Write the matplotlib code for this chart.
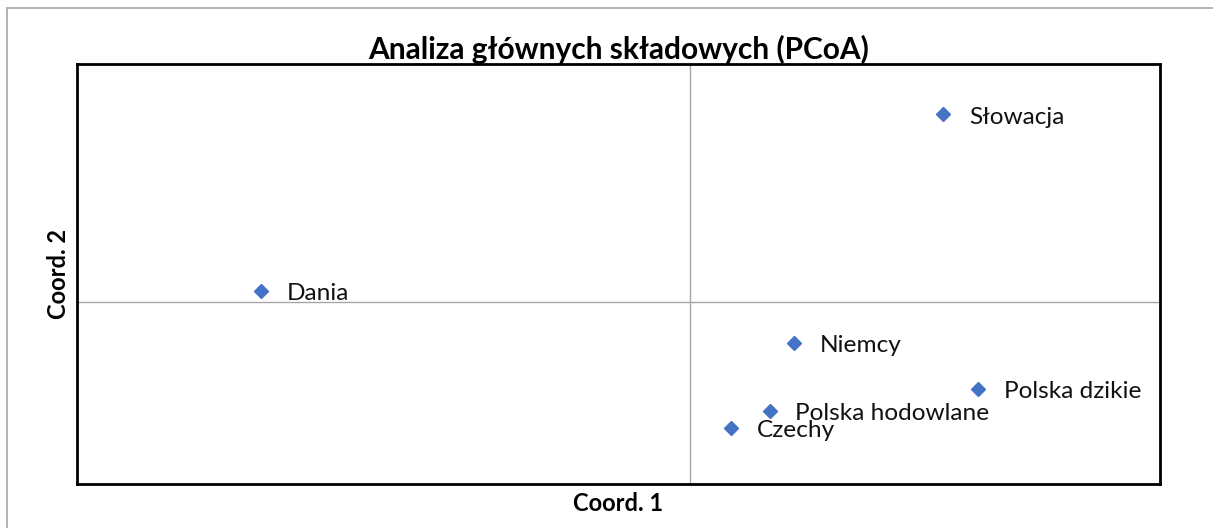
import matplotlib.pyplot as plt
from matplotlib.patches import Rectangle

# PCoA coordinates
countries = ["Słowacja", "Dania", "Niemcy", "Polska dzikie", "Polska hodowlane", "Czechy"]
coord1 = [0.124, -0.210, 0.051, 0.141, 0.039, 0.020]
coord2 = [0.134, 0.008, -0.029, -0.062, -0.078, -0.090]

plt.rcParams['font.family'] = ['Lato', 'DejaVu Sans']

fig = plt.figure(figsize=(12.13, 5.28), dpi=100)
ax = fig.add_axes([77 / 1213, 1 - 484 / 528, (1160 - 77) / 1213, (484 - 64) / 528])

ax.axhline(0, color="#a6a6a6", lw=1, zorder=1)
ax.axvline(0, color="#a6a6a6", lw=1, zorder=1)
ax.plot(coord1, coord2, linestyle="none", marker="D", markersize=7,
        color="#4472c4", zorder=3)

for name, x, y in zip(countries, coord1, coord2):
    ax.annotate(name, (x, y), xytext=(18.5, -2), textcoords="offset points",
                va="center", ha="left", fontsize=17.6, color="#111111")

ax.set_xlim(-0.3, 0.23)
ax.set_ylim(-0.13, 0.17)
ax.set_xticks([])
ax.set_yticks([])
for side in ax.spines.values():
    side.set_linewidth(2)
    side.set_color("black")

ax.set_title("Analiza głównych składowych (PCoA)", fontsize=21.5, fontweight="bold", pad=1)
ax.set_xlabel("Coord. 1", fontsize=17, fontweight="bold", labelpad=6)
ax.set_ylabel("Coord. 2", fontsize=17, fontweight="bold", labelpad=5)

# light frame around the chart area
fig.patches.append(Rectangle((7 / 1213, -0.1), 1.2, 1 - 8 / 528 + 0.1,
                             transform=fig.transFigure, fill=False,
                             edgecolor="#a6a6a6", lw=1.2))

plt.savefig("out.png", dpi=100)
